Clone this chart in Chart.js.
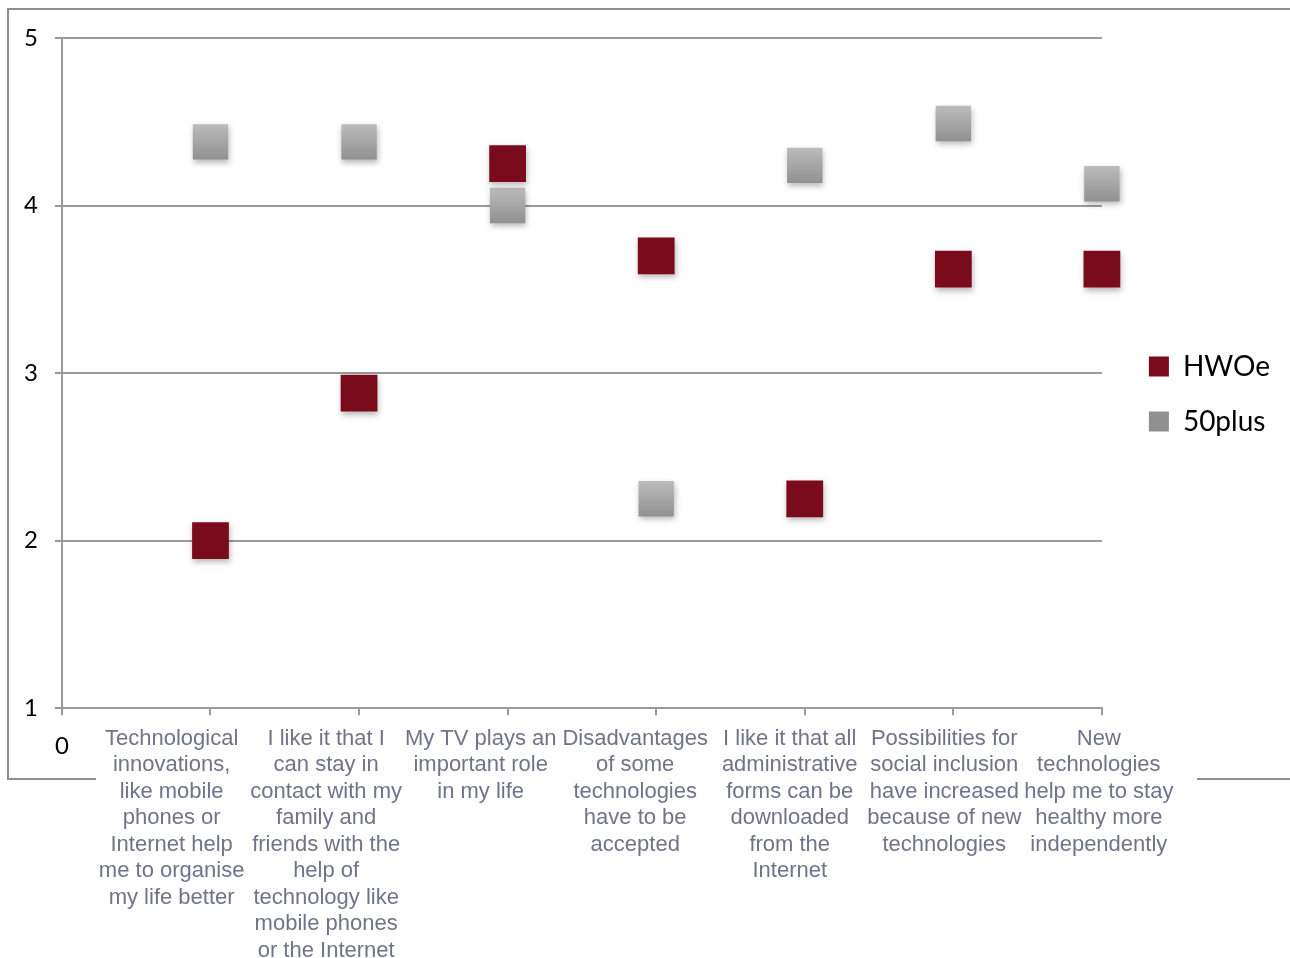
<!DOCTYPE html>
<html>
<head>
<meta charset="utf-8">
<script src="https://cdn.jsdelivr.net/npm/chart.js@4/dist/chart.umd.min.js"></script>
<style>
  html, body { margin: 0; padding: 0; background: #ffffff; }
  #wrap { width: 1290px; height: 958px; position: relative; }
  canvas { display: block; }
</style>
</head>
<body>
<div id="wrap"><canvas id="chart" width="1290" height="958"></canvas></div>
<script>
// Survey statements (one wrapped label per column)
const categories = [
  ["Technological", "innovations,", "like mobile", "phones or", "Internet help", "me to organise", "my life better"],
  ["I like it that I", "can stay in", "contact with my", "family and", "friends with the", "help of", "technology like", "mobile phones", "or the Internet"],
  ["My TV plays an", "important role", "in my life"],
  ["Disadvantages", "of some", "technologies", "have to be", "accepted"],
  ["I like it that all", "administrative", "forms can be", "downloaded", "from the", "Internet"],
  ["Possibilities for", "social inclusion", "have increased", "because of new", "technologies"],
  ["New", "technologies", "help me to stay", "healthy more", "independently"]
];

// Mean agreement scores per group
const seriesNames = ["HWOe", "50plus"];
const hwoeValues = [2.00, 2.88, 4.25, 3.70, 2.25, 3.62, 3.62];
const plusValues = [4.38, 4.38, 4.00, 2.25, 4.24, 4.49, 4.13];

// Axis ticks
const yTickValues = [1, 2, 3, 4, 5];
const xTickValues = [0, 1, 2, 3, 4, 5, 6, 7];

const RED = '#7a0b1c';
const AXIS_GRAY = '#9a9a9a';

// The statement captions sit on their own, slightly wider band
const LABEL_BAND_MIN = 0.29;
const LABEL_BAND_MAX = 7.02;
const LEGEND_SHIFT_X = 20;
const LEGEND_SHIFT_Y = -14;

function silverFill(ctx) {
  const flat = '#a9a9a9';
  if (ctx.type !== 'data' || !ctx.parsed) return flat;
  const chart = ctx.chart;
  const yScale = chart.scales && chart.scales.y;
  if (!yScale) return flat;
  const y = yScale.getPixelForValue(ctx.parsed.y);
  if (!isFinite(y)) return flat;
  const g = chart.ctx.createLinearGradient(0, y - 18, 0, y + 18);
  g.addColorStop(0, '#bcbcbc');
  g.addColorStop(1, '#909090');
  return g;
}

const framePlugin = {
  id: 'frame',
  beforeDraw(chart) {
    const c = chart.ctx;
    c.save();
    c.strokeStyle = '#8e8e8e';
    c.lineWidth = 2;
    c.strokeRect(8, 9, 1300, 770);
    // caption block sits over the lower frame edge
    c.fillStyle = '#ffffff';
    c.fillRect(96, 712, 1101, 250);
    c.restore();
  }
};

const softCaptionPlugin = {
  id: 'softCaptions',
  beforeDraw(chart) {
    const s = chart.scales.xl;
    if (s && !s._softened) {
      const orig = s.drawLabels;
      s.drawLabels = function (area) {
        const c = this.ctx;
        c.save();
        c.filter = 'blur(0.75px)';
        orig.call(this, area);
        c.restore();
      };
      s._softened = true;
    }
  }
};

const markerShadowPlugin = {
  id: 'markerShadow',
  beforeDatasetsDraw(chart) {
    const c = chart.ctx;
    c.save();
    c.shadowColor = 'rgba(0,0,0,0.28)';
    c.shadowBlur = 6;
    c.shadowOffsetX = 1;
    c.shadowOffsetY = 3;
  },
  afterDatasetsDraw(chart) {
    chart.ctx.restore();
  }
};

const legendNudgePlugin = {
  id: 'legendNudge',
  afterLayout(chart) {
    const l = chart.legend;
    if (!l) return;
    l.left += LEGEND_SHIFT_X; l.right += LEGEND_SHIFT_X;
    l.top += LEGEND_SHIFT_Y; l.bottom += LEGEND_SHIFT_Y;
  }
};

new Chart(document.getElementById('chart'), {
  type: 'scatter',
  data: {
    datasets: [
      {
        label: seriesNames[0],
        data: hwoeValues.map((v, i) => ({ x: i + 1, y: v })),
        pointStyle: 'rect',
        pointRadius: 26,
        pointHoverRadius: 26,
        backgroundColor: RED,
        borderColor: RED,
        borderWidth: 0,
        clip: false
      },
      {
        label: seriesNames[1],
        data: plusValues.map((v, i) => ({ x: i + 1, y: v })),
        pointStyle: 'rect',
        pointRadius: 25,
        pointHoverRadius: 25,
        backgroundColor: silverFill,
        borderColor: '#a9a9a9',
        borderWidth: 0,
        clip: false
      }
    ]
  },
  options: {
    responsive: false,
    animation: false,
    events: [],
    devicePixelRatio: 1,
    layout: { padding: { top: 38, left: 7, right: 30, bottom: 180 } },
    plugins: {
      tooltip: { enabled: false },
      legend: {
        position: 'right',
        labels: {
          boxWidth: 20,
          boxHeight: 20,
          padding: 27,
          color: '#000000',
          font: { family: 'Lato, "Noto Sans", sans-serif', size: 28 }
        }
      }
    },
    scales: {
      x: {
        type: 'linear',
        position: 'bottom',
        min: 0,
        max: 7,
        afterBuildTicks: (ax) => { ax.ticks = xTickValues.map(v => ({ value: v })); },
        grid: { drawOnChartArea: false, drawTicks: true, tickLength: 7, color: AXIS_GRAY, lineWidth: 2 },
        border: { display: true, color: AXIS_GRAY, width: 2 },
        ticks: {
          autoSkip: false,
          maxRotation: 0,
          padding: 17,
          color: '#000000',
          font: { family: 'Lato, "Noto Sans", sans-serif', size: 24 },
          callback: (v) => (v === 0 ? String(v) : '')
        }
      },
      xl: {
        axis: 'x',
        type: 'linear',
        position: { y: 1 },
        min: LABEL_BAND_MIN,
        max: LABEL_BAND_MAX,
        afterBuildTicks: (ax) => { ax.ticks = categories.map((c, i) => ({ value: i + 1 })); },
        grid: { display: false, drawTicks: false },
        border: { display: false },
        ticks: {
          autoSkip: false,
          maxRotation: 0,
          padding: 17,
          color: '#6f7488',
          font: { family: '"Liberation Sans", Arial, sans-serif', size: 22, lineHeight: 26.5 / 22 },
          callback: (v, i) => categories[i]
        }
      },
      y: {
        type: 'linear',
        min: 1,
        max: 5,
        afterBuildTicks: (ax) => { ax.ticks = yTickValues.map(v => ({ value: v })); },
        grid: { color: AXIS_GRAY, lineWidth: 2, tickLength: 7 },
        border: { display: true, color: AXIS_GRAY, width: 2 },
        ticks: {
          padding: 17,
          color: '#000000',
          font: { family: 'Lato, "Noto Sans", sans-serif', size: 24 }
        }
      }
    }
  },
  plugins: [framePlugin, softCaptionPlugin, markerShadowPlugin, legendNudgePlugin]
});
</script>
</body>
</html>
